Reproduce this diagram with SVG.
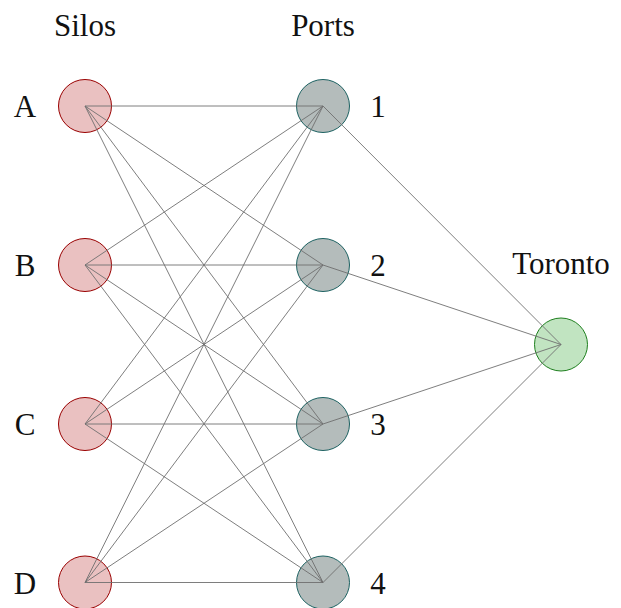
<svg xmlns="http://www.w3.org/2000/svg" width="621" height="608" viewBox="0 0 621 608">
<style>
text{font-family:"Liberation Serif","DejaVu Serif",serif;font-size:31px;fill:#111;text-anchor:middle}
.silo{fill:#eac1c1;stroke:#990000;stroke-width:1}
.port{fill:#b4bcbb;stroke:#1d6262;stroke-width:1}
.city{fill:#c1e4c1;stroke:#1e7f1e;stroke-width:1}
#connectors line{stroke:#6f6f6f;stroke-width:0.9}
</style>
<rect width="621" height="608" fill="#fff"/>
<text x="85" y="36">Silos</text>
<text x="323" y="36">Ports</text>
<g id="A"><circle class="silo" cx="85" cy="106" r="26.5"/><text x="25" y="117">A</text></g>
<g id="B"><circle class="silo" cx="85" cy="265" r="26.5"/><text x="25" y="276">B</text></g>
<g id="C"><circle class="silo" cx="85" cy="424" r="26.5"/><text x="25" y="435">C</text></g>
<g id="D"><circle class="silo" cx="85" cy="582.5" r="26.5"/><text x="25" y="593.5">D</text></g>
<g id="P1"><circle class="port" cx="323" cy="106" r="26.5"/><text x="378" y="117">1</text></g>
<g id="P2"><circle class="port" cx="323" cy="265" r="26.5"/><text x="378" y="276">2</text></g>
<g id="P3"><circle class="port" cx="323" cy="424" r="26.5"/><text x="378" y="435">3</text></g>
<g id="P4"><circle class="port" cx="323" cy="582.5" r="26.5"/><text x="378" y="593.5">4</text></g>
<g id="Toronto"><circle class="city" cx="561" cy="344.5" r="26.5"/><text x="561" y="274">Toronto</text></g>
<g id="connectors">
<line x1="85" y1="106" x2="323" y2="106"/>
<line x1="85" y1="106" x2="323" y2="265"/>
<line x1="85" y1="106" x2="323" y2="424"/>
<line x1="85" y1="106" x2="323" y2="582.5"/>
<line x1="85" y1="265" x2="323" y2="106"/>
<line x1="85" y1="265" x2="323" y2="265"/>
<line x1="85" y1="265" x2="323" y2="424"/>
<line x1="85" y1="265" x2="323" y2="582.5"/>
<line x1="85" y1="424" x2="323" y2="106"/>
<line x1="85" y1="424" x2="323" y2="265"/>
<line x1="85" y1="424" x2="323" y2="424"/>
<line x1="85" y1="424" x2="323" y2="582.5"/>
<line x1="85" y1="582.5" x2="323" y2="106"/>
<line x1="85" y1="582.5" x2="323" y2="265"/>
<line x1="85" y1="582.5" x2="323" y2="424"/>
<line x1="85" y1="582.5" x2="323" y2="582.5"/>
<line x1="323" y1="106" x2="561" y2="344.5"/>
<line x1="323" y1="265" x2="561" y2="344.5"/>
<line x1="323" y1="424" x2="561" y2="344.5"/>
<line x1="323" y1="582.5" x2="561" y2="344.5"/>
</g>
</svg>
